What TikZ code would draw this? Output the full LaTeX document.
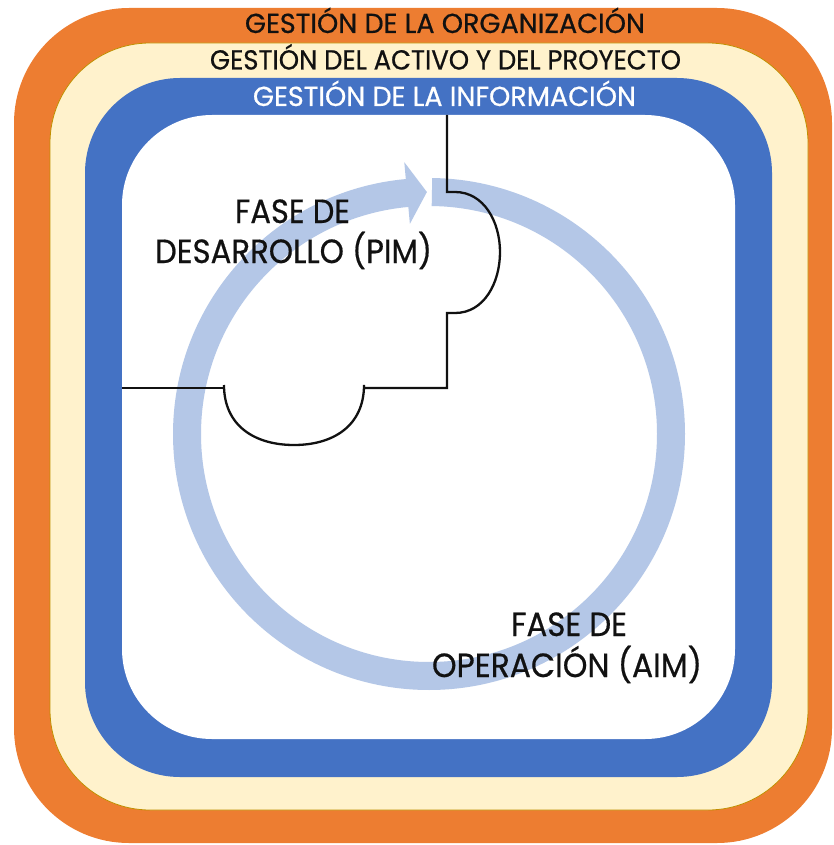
\documentclass[tikz,border=0pt]{standalone}
\usepackage{fontspec}
\usepackage{graphicx}
\setmainfont{Poppins}
\newfontfamily\labelfont{Poppins}[FakeBold=0.6]

% band and cycle colours
\definecolor{orgband}{HTML}{ED7D31}
\definecolor{assetband}{HTML}{FFF2CC}
\definecolor{assetedge}{HTML}{C09000}
\definecolor{infoband}{HTML}{4472C4}
\definecolor{cyclearrow}{HTML}{B4C7E7}
\definecolor{ink}{HTML}{111111}

\tikzset{
  bandlabel/.style={anchor=base, inner sep=0pt, text=ink,
    font=\labelfont\fontsize{27.5}{30}\selectfont},
  phaselabel/.style={anchor=base, inner sep=0pt, text=ink,
    font=\labelfont\fontsize{33.5}{36}\selectfont},
  boundary/.style={draw=ink, line width=2.3pt, line join=miter},
  thinboundary/.style={draw=ink, line width=1.6pt}
}

\begin{document}
\begin{tikzpicture}[x=1pt, y=-1pt]
\useasboundingbox (0,0) rectangle (833,845);

% nested management layers
\fill[orgband, rounded corners=115pt] (14,8) rectangle (832,843);
\filldraw[fill=assetband, draw=assetedge, line width=0.8pt, rounded corners=100pt]
  (50,43) rectangle (808,810);
\fill[infoband, rounded corners=95pt] (85,78) rectangle (772,777);
\fill[white, rounded corners=90pt] (122,115) rectangle (735,739);

% life-cycle arrow
\coordinate (cc) at (429,434);
\draw[cyclearrow, line width=28pt] (cc) ++(-89.3:242)
  arc[start angle=-89.3, end angle=265, radius=242];
\fill[cyclearrow, shift={(cc)}] (264.8:211) -- (269.5:242) -- (264.8:273) -- cycle;

% boundary between the development and operation phases
\draw[boundary] (447,115) -- (447,192) -- (455,192)
  .. controls (484,192) and (500,222) .. (500,252)
  .. controls (500,283) and (484,313) .. (455,313)
  -- (447,313) -- (447,388) -- (364,388) -- (364,385)
  .. controls (364,426) and (333,445) .. (294,445)
  .. controls (255,445) and (224,426) .. (224,385);
\draw[thinboundary] (224,388) -- (122,388);

% layer titles
\node[bandlabel] (org) at (445,33)
  {\resizebox{400pt}{\height}{GESTIÓN DE LA ORGANIZACIÓN}};
\node[bandlabel] (asset) at (445.5,69.5)
  {\resizebox{471pt}{\height}{GESTIÓN DEL ACTIVO Y DEL PROYECTO}};
\node[bandlabel, text=white] (info) at (444.5,106)
  {\resizebox{383pt}{\height}{GESTIÓN DE LA INFORMACIÓN}};

% phase titles
\node[phaselabel] (pim1) at (292.5,223) {\resizebox{115pt}{\height}{FASE DE}};
\node[phaselabel] (pim2) at (293.5,263) {\resizebox{277pt}{\height}{DESARROLLO (PIM)}};
\node[phaselabel] (aim1) at (569,636) {\resizebox{116pt}{\height}{FASE DE}};
\node[phaselabel] (aim2) at (567,677) {\resizebox{270pt}{\height}{OPERACIÓN (AIM)}};
\end{tikzpicture}
\end{document}
